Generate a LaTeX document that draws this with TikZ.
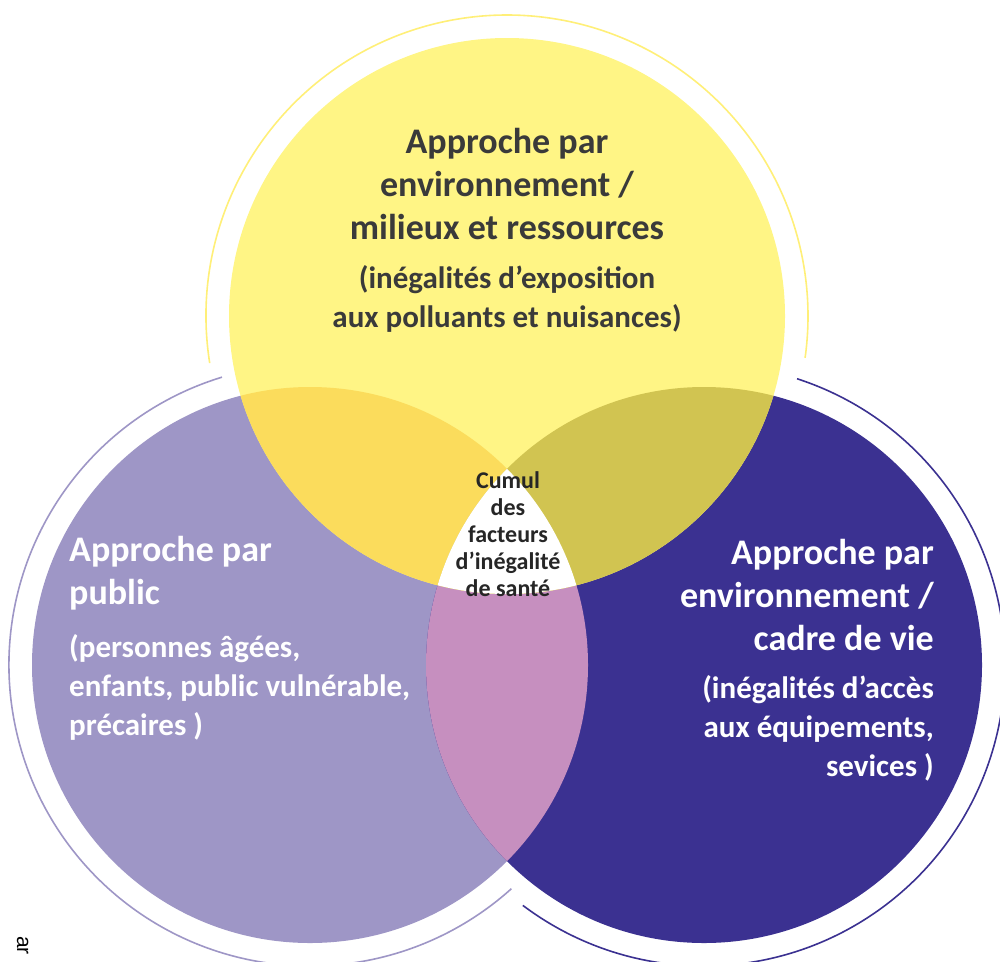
\documentclass[tikz,border=0pt]{standalone}
\usepackage{fontspec}
\setmainfont{Carlito}
\newfontfamily\fragfont{Liberation Sans}
\usetikzlibrary{positioning}

\definecolor{jaune}{HTML}{FFF585}
\definecolor{jaunetrait}{HTML}{FFEF78}
\definecolor{jaunepub}{HTML}{FBDC5C}
\definecolor{olive}{HTML}{D1C451}
\definecolor{lavande}{HTML}{9E96C6}
\definecolor{indigo}{HTML}{3B3191}
\definecolor{rose}{HTML}{C68FBF}
\definecolor{gristexte}{HTML}{3A3A3A}

\tikzset{
  anneau/.style={line width=1.6pt},
  titre/.style={font=\bfseries\fontsize{36}{43}\selectfont, inner sep=0pt},
  sous/.style={font=\bfseries\fontsize{31}{39}\selectfont, inner sep=0pt},
}

\begin{document}
\begin{tikzpicture}[x=1pt, y=1pt]
\useasboundingbox (0,0) rectangle (1000,-961);
\coordinate (E) at (507,-316);
\coordinate (P) at (310,-665);
\coordinate (C) at (704,-665);
\def\rayon{278}
\def\rayonext{301}

% disques
\fill[lavande] (P) circle (\rayon);
\fill[indigo] (C) circle (\rayon);
\fill[jaune] (E) circle (\rayon);

% intersections
\begin{scope}
  \clip (P) circle (\rayon);
  \fill[rose] (C) circle (\rayon);
\end{scope}
\begin{scope}
  \clip (E) circle (\rayon);
  \fill[jaunepub] (P) circle (\rayon);
  \fill[olive] (C) circle (\rayon);
  \clip (P) circle (\rayon);
  \fill[white] (C) circle (\rayon);
\end{scope}

% anneaux
\draw[anneau, jaunetrait] (E) ++(189:\rayonext) arc[start angle=189, end angle=-8, radius=\rayonext];
\draw[anneau, lavande] (P) ++(107:\rayonext) arc[start angle=107, end angle=312, radius=\rayonext];
\draw[anneau, indigo] (C) ++(72:\rayonext) arc[start angle=72, end angle=-127, radius=\rayonext];

% textes
\node[titre, text=gristexte, align=center] (envtitre) at (507,-184)
  {Approche par\\environnement /\\milieux et ressources};
\node[sous, text=gristexte, align=center, below=25pt of envtitre] (envsous)
  {(inégalités d’exposition\\aux polluants et nuisances)};

\node[titre, text=white, align=left, anchor=west] (pubtitre) at (69,-573)
  {Approche par\\public};
\node[sous, text=white, align=left, below right=24pt and 0pt of pubtitre.south west] (pubsous)
  {(personnes âgées,\\enfants, public vulnérable,\\précaires )};

\node[titre, text=white, align=right, anchor=east] (cadretitre) at (934,-595)
  {Approche par\\environnement /\\cadre de vie};
\node[sous, text=white, align=right, below left=24pt and 0pt of cadretitre.south east] (cadresous)
  {(inégalités d’accès\\aux équipements,\\sevices )};

\node[font=\bfseries\fontsize{24}{27}\selectfont, text=black!85, align=center, inner sep=0pt] (cumul) at (508,-534)
  {Cumul\\des\\facteurs\\d’inégalité\\de santé};

\node[font=\fragfont\fontsize{21}{21}\selectfont, rotate=-90, anchor=base west, inner sep=0pt] (fragment) at (17,-936) {ar};
\end{tikzpicture}
\end{document}
